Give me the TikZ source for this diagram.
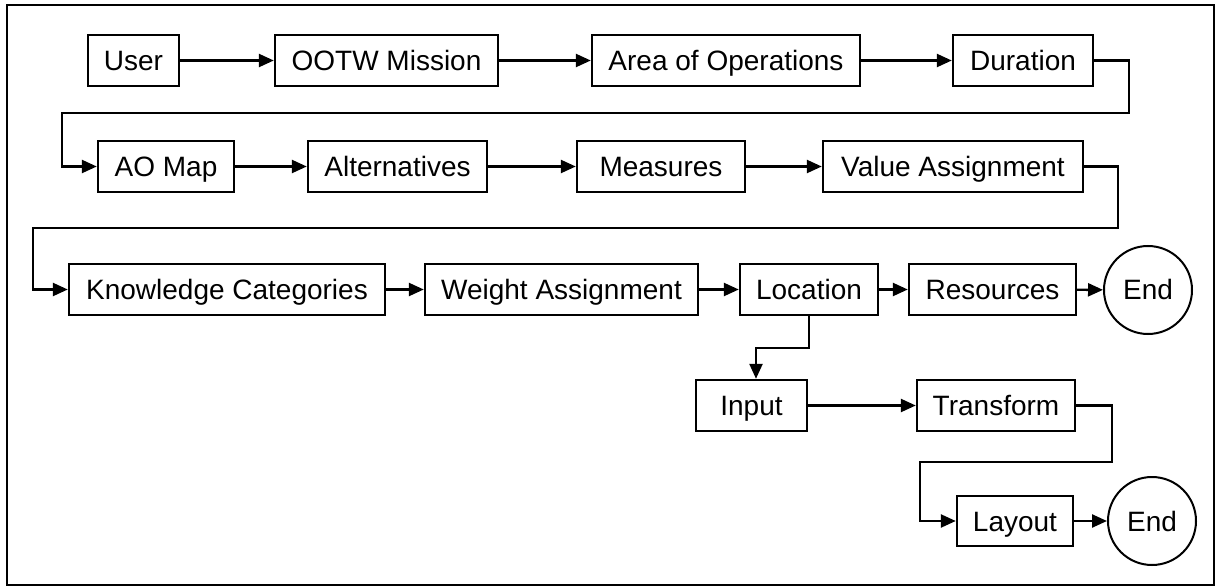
\documentclass[tikz,border=0pt]{standalone}
\usepackage{fontspec}
\setmainfont{Liberation Sans}
\usetikzlibrary{arrows.meta}
\begin{document}
\begin{tikzpicture}[x=1pt,y=-1pt,
  box/.style={draw,line width=2.4pt,rectangle,inner sep=0pt,font=\fontsize{28}{30}\selectfont,minimum height=51pt,text height=20pt,text depth=0pt},
  endc/.style={draw,line width=2pt,circle,inner sep=0pt,minimum size=88pt,font=\fontsize{28}{30}\selectfont,text height=20pt,text depth=0pt},
  conn/.style={line width=2.4pt,-{Triangle[length=15pt,width=13pt]}}]
\useasboundingbox (0,0) rectangle (1219,588);
\draw[line width=2.6pt] (7,5) rectangle (1214,585);
% row 1
\node[box,minimum width=91pt] (user) at (133.5,60.5) {User};
\node[box,minimum width=223pt] (ootw) at (386.5,60.5) {OOTW Mission};
\node[box,minimum width=268pt] (aoo) at (726,60.5) {Area of Operations};
\node[box,minimum width=140pt] (dur) at (1023,60.5) {Duration};
% row 2
\node[box,minimum width=136pt] (aomap) at (166,166.5) {AO Map};
\node[box,minimum width=179pt] (alt) at (397.5,166.5) {Alternatives};
\node[box,minimum width=168pt] (meas) at (661,166.5) {Measures};
\node[box,minimum width=260pt] (val) at (953,166.5) {Value Assignment};
% row 3
\node[box,minimum width=316pt] (know) at (227,289.5) {Knowledge Categories};
\node[box,minimum width=273pt] (weight) at (561.5,289.5) {Weight Assignment};
\node[box,minimum width=138pt] (loc) at (809,289.5) {Location};
\node[box,minimum width=167pt] (res) at (992.5,289.5) {Resources};
\node[endc] (end1) at (1148,290) {End};
% row 4
\node[box,minimum width=111pt] (inp) at (751.5,405.5) {Input};
\node[box,minimum width=158pt] (trans) at (996,405.5) {Transform};
% row 5
\node[box,minimum width=116pt,minimum height=50pt] (lay) at (1015,521) {Layout};
\node[endc] (end2) at (1152,521) {End};
% connectors
\coordinate (c1) at (1129,113);
\coordinate (c2) at (62,113);
\coordinate (c3) at (1118,228);
\coordinate (c4) at (33,228);
\coordinate (c5) at (809,348);
\coordinate (c6) at (756,348);
\coordinate (c7) at (1112,462);
\coordinate (c8) at (920,462);
\draw[conn] (user) -- (ootw);
\draw[conn] (ootw) -- (aoo);
\draw[conn] (aoo) -- (dur);
\draw[conn] (dur.east) -| (c1) -- (c2) |- (aomap.west);
\draw[conn] (aomap) -- (alt);
\draw[conn] (alt) -- (meas);
\draw[conn] (meas) -- (val);
\draw[conn] (val.east) -| (c3) -- (c4) |- (know.west);
\draw[conn] (know) -- (weight);
\draw[conn] (weight) -- (loc);
\draw[conn] (loc) -- (res);
\draw[conn] (res) -- (end1);
\draw[conn] (loc.south) -- (c5) -- (c6) -- (c6 |- inp.north);
\draw[conn] (inp) -- (trans);
\draw[conn] (trans.east) -| (c7) -- (c8) |- (lay.west);
\draw[conn] (lay) -- (end2);
\end{tikzpicture}
\end{document}
